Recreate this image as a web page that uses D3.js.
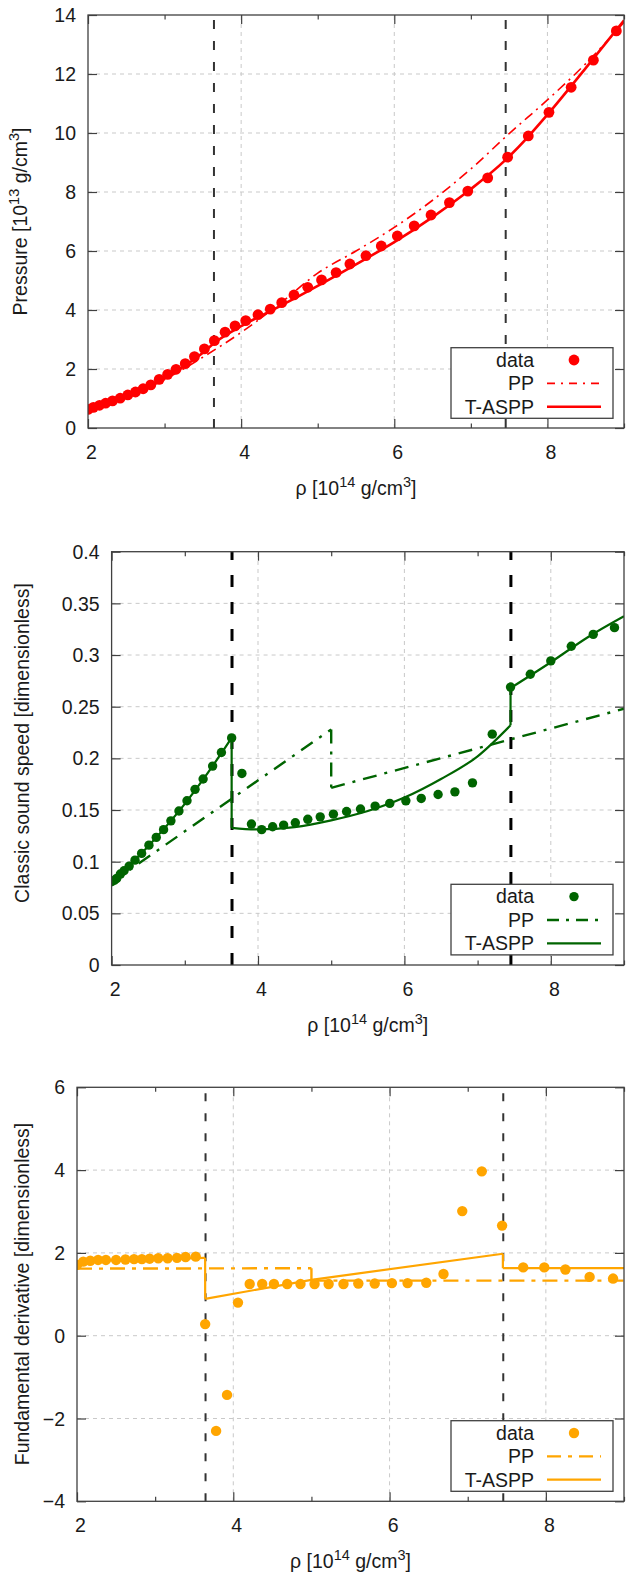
<!DOCTYPE html>
<html><head><meta charset="utf-8">
<script src="https://cdn.jsdelivr.net/npm/d3@7"></script>
<style>
body{margin:0;background:#fff}
svg{display:block}
text{font-family:"Liberation Sans",Arial,sans-serif;fill:#1a1a1a}
</style>
</head><body>
<svg id="chart" width="626" height="1572"></svg>
<script>
// ---------- shared ----------
const xTicks = [2, 4, 6, 8];
const xMinorTicks = [3, 5, 7, 9];
const transitions = [3.645, 7.455];
const legendLabels = ["data", "PP", "T-ASPP"];

// ---------- panel 1 : pressure ----------
const rho1 = [2.0, 2.07, 2.15, 2.23, 2.32, 2.42, 2.52, 2.62, 2.72, 2.82, 2.93, 3.04, 3.15, 3.27, 3.39, 3.52, 3.65, 3.79, 3.92, 4.06, 4.22, 4.38, 4.53, 4.69, 4.87, 5.05, 5.24, 5.42, 5.63, 5.83, 6.04, 6.26, 6.48, 6.72, 6.96, 7.22, 7.48, 7.75, 8.02, 8.31, 8.60, 8.90];
const pressure = [0.63, 0.70, 0.77, 0.84, 0.92, 1.01, 1.12, 1.22, 1.33, 1.46, 1.65, 1.82, 1.99, 2.18, 2.42, 2.68, 2.96, 3.25, 3.46, 3.64, 3.84, 4.03, 4.25, 4.51, 4.77, 5.02, 5.27, 5.56, 5.84, 6.17, 6.51, 6.85, 7.22, 7.64, 8.03, 8.48, 9.18, 9.90, 10.70, 11.55, 12.47, 13.46];
const ppRho1 = [2.0, 2.5, 3.0, 3.5, 4.0, 4.5, 5.0, 5.5, 6.0, 6.5, 7.0, 7.5, 8.0, 8.5, 9.0];
const ppPressure = [0.62, 1.04, 1.64, 2.40, 3.24, 4.2, 5.25, 6.0, 6.8, 7.72, 8.78, 9.98, 11.12, 12.35, 13.75];
const tasppRho1 = [2.0, 2.5, 3.0, 3.5, 3.65, 4.0, 4.5, 5.0, 5.5, 6.0, 6.5, 7.0, 7.45, 7.75, 8.0, 8.5, 9.0];
const tasppPressure = [0.62, 1.06, 1.68, 2.55, 2.88, 3.45, 4.12, 4.82, 5.55, 6.30, 7.15, 8.10, 9.08, 9.88, 10.62, 12.2, 13.82];
const yTicks1 = [0, 2, 4, 6, 8, 10, 12, 14];

// ---------- panel 2 : classic sound speed ----------
const rho2 = [2.0, 2.04, 2.07, 2.12, 2.17, 2.24, 2.32, 2.41, 2.51, 2.61, 2.71, 2.81, 2.92, 3.03, 3.14, 3.25, 3.38, 3.50, 3.64, 3.78, 3.91, 4.05, 4.20, 4.35, 4.51, 4.68, 4.85, 5.03, 5.21, 5.40, 5.60, 5.80, 6.02, 6.23, 6.46, 6.69, 6.93, 7.20, 7.45, 7.72, 8.0, 8.28, 8.58, 8.87];
const soundSpeed = [0.0806, 0.082, 0.0838, 0.088, 0.0912, 0.0957, 0.1015, 0.108, 0.116, 0.1235, 0.131, 0.1395, 0.149, 0.159, 0.170, 0.180, 0.1925, 0.2057, 0.2198, 0.1854, 0.1364, 0.131, 0.1338, 0.1354, 0.1376, 0.141, 0.1434, 0.146, 0.1486, 0.151, 0.1538, 0.1564, 0.1589, 0.1612, 0.165, 0.1676, 0.1763, 0.2234, 0.269, 0.2814, 0.2943, 0.3085, 0.320, 0.3265];
const ppRho2 = [2.0, 5.0, 5.0, 9.0];
const ppSpeed = [0.080, 0.228, 0.1715, 0.248];
const tasppRho2 = [2.0, 2.5, 3.0, 3.5, 3.64, 3.64, 4.0, 4.5, 5.0, 5.5, 6.0, 6.5, 7.0, 7.45, 7.45, 8.0, 8.5, 9.0];
const tasppSpeed = [0.080, 0.115, 0.156, 0.205, 0.220, 0.1328, 0.1312, 0.1335, 0.140, 0.149, 0.162, 0.180, 0.202, 0.232, 0.268, 0.293, 0.317, 0.3375];
const yTicks2 = [0, 0.05, 0.1, 0.15, 0.2, 0.25, 0.3, 0.35, 0.4];

// ---------- panel 3 : fundamental derivative ----------
const rho3 = [2.0, 2.08, 2.17, 2.27, 2.37, 2.50, 2.62, 2.73, 2.83, 2.93, 3.04, 3.16, 3.28, 3.39, 3.52, 3.64, 3.78, 3.92, 4.06, 4.21, 4.37, 4.52, 4.69, 4.86, 5.04, 5.22, 5.41, 5.60, 5.81, 6.03, 6.23, 6.47, 6.69, 6.93, 7.18, 7.44, 7.71, 7.98, 8.25, 8.56, 8.86];
const fundDeriv = [1.71, 1.79, 1.81, 1.83, 1.83, 1.83, 1.84, 1.85, 1.85, 1.86, 1.87, 1.87, 1.88, 1.90, 1.91, 0.28, -2.30, -1.43, 0.80, 1.25, 1.25, 1.25, 1.25, 1.25, 1.25, 1.25, 1.25, 1.26, 1.26, 1.27, 1.27, 1.28, 1.49, 3.01, 3.97, 2.66, 1.65, 1.65, 1.60, 1.42, 1.38];
const ppRho3 = [2.0, 5.0, 5.0, 9.0];
const ppDeriv = [1.62, 1.63, 1.33, 1.33];
const tasppRho3 = [2.0, 3.0, 3.64, 3.64, 5.0, 7.45, 7.45, 9.0];
const tasppDeriv = [1.80, 1.85, 1.88, 0.89, 1.35, 1.98, 1.63, 1.63];
const yTicks3 = [-4, -2, 0, 2, 4, 6];

// ---------- drawing ----------
const svg = d3.select("#chart");
const FONT = 19.5;

function zip(xs, ys) { return xs.map((x, i) => [x, ys[i]]); }
function segments(xs, ys) {
  const segs = [[[xs[0], ys[0]]]], jumps = [];
  for (let i = 1; i < xs.length; i++) {
    if (xs[i] === xs[i - 1]) {
      jumps.push([[xs[i - 1], ys[i - 1]], [xs[i], ys[i]]]);
      segs.push([[xs[i], ys[i]]]);
    } else segs[segs.length - 1].push([xs[i], ys[i]]);
  }
  return { segs, jumps };
}
function richText(sel, parts) {
  parts.forEach(p => {
    if (p.sup) sel.append("tspan").attr("font-size", 14.5).attr("dy", -8).text(p.t);
    else sel.append("tspan").attr("font-size", FONT).attr("dy", p.after ? 8 : 0).text(p.t);
  });
}
const xTitleParts = [{t: "ρ [10"}, {t: "14", sup: true}, {t: " g/cm", after: true}, {t: "3", sup: true}, {t: "]", after: true}];

function drawPanel(c, idx) {
  const g = svg.append("g");
  const x = d3.scaleLinear().domain([2, 9]).range([c.left, c.right]);
  const y = d3.scaleLinear().domain(c.yDomain).range([c.bottom, c.top]);
  const clipId = "clip" + idx;
  svg.append("defs").append("clipPath").attr("id", clipId)
    .append("rect").attr("x", c.left).attr("y", c.top).attr("width", c.right - c.left).attr("height", c.bottom - c.top);

  // grid
  const grid = g.append("g").attr("stroke", "#c9c9c9").attr("stroke-width", 1).attr("stroke-dasharray", "4,4");
  xTicks.filter(t => t > 2).forEach(t => grid.append("line").attr("x1", x(t)).attr("x2", x(t)).attr("y1", c.bottom).attr("y2", c.top));
  c.yTicks.filter(t => t > c.yDomain[0] && t < c.yDomain[1]).forEach(t => grid.append("line").attr("x1", c.left).attr("x2", c.right).attr("y1", y(t)).attr("y2", y(t)));

  // transition lines
  transitions.forEach(t => g.append("line").attr("x1", x(t)).attr("x2", x(t)).attr("y1", c.bottom).attr("y2", c.top)
    .attr("stroke", c.vColor).attr("stroke-width", c.vWidth).attr("stroke-dasharray", c.vDash));

  const plot = g.append("g").attr("clip-path", `url(#${clipId})`);
  const lineGen = d3.line().x(d => x(d[0])).y(d => y(d[1]));

  function drawSeries(xs, ys, curve, style) {
    const { segs, jumps } = segments(xs, ys);
    segs.forEach(s => plot.append("path").attr("d", lineGen.curve(curve)(s)).attr("fill", "none")
      .attr("stroke", c.color).attr("stroke-width", style.w).attr("stroke-dasharray", style.dash || null).attr("stroke-linejoin", "round"));
    jumps.forEach(j => plot.append("path").attr("d", d3.line().x(d => x(d[0])).y(d => y(d[1]))(j)).attr("fill", "none")
      .attr("stroke", c.color).attr("stroke-width", style.w).attr("stroke-dasharray", style.dash || null));
  }
  drawSeries(c.ppX, c.ppY, c.ppCurve, { w: c.ppWidth, dash: c.ppDash });
  drawSeries(c.tX, c.tY, c.tCurve, { w: c.tWidth });

  plot.selectAll("circle.pt").data(zip(c.dX, c.dY)).join("circle").attr("class", "pt")
    .attr("cx", d => x(d[0])).attr("cy", d => y(d[1])).attr("r", c.r).attr("fill", c.color);

  // axes (ticks inward, mirrored)
  const axB = d3.axisBottom(x).tickValues(xTicks).tickSizeInner(-9).tickSizeOuter(0).tickFormat(d3.format("d"));
  const axT = d3.axisTop(x).tickValues(xTicks).tickSizeInner(-9).tickSizeOuter(0).tickFormat("");
  const axL = d3.axisLeft(y).tickValues(c.yTicks).tickSizeInner(-9).tickSizeOuter(0).tickFormat(c.fmt);
  const axR = d3.axisRight(y).tickValues(c.yTicks).tickSizeInner(-9).tickSizeOuter(0).tickFormat("");
  const mB = d3.axisBottom(x).tickValues(xMinorTicks).tickSizeInner(-4.5).tickSizeOuter(0).tickFormat("");
  const mT = d3.axisTop(x).tickValues(xMinorTicks).tickSizeInner(-4.5).tickSizeOuter(0).tickFormat("");
  const styleAx = s => { s.select(".domain").remove(); s.selectAll("line").attr("stroke", "#404040").attr("stroke-width", 1.2); };
  const gB = g.append("g").attr("transform", `translate(0,${c.bottom})`).call(axB).call(styleAx);
  gB.selectAll("text").attr("y", 31).attr("dy", 0).attr("dx", 3).attr("font-size", FONT).attr("fill", "#1a1a1a").attr("font-family", '"Liberation Sans",Arial,sans-serif');
  g.append("g").attr("transform", `translate(0,${c.top})`).call(axT).call(styleAx);
  g.append("g").attr("transform", `translate(0,${c.bottom})`).call(mB).call(styleAx);
  g.append("g").attr("transform", `translate(0,${c.top})`).call(mT).call(styleAx);
  const gL = g.append("g").attr("transform", `translate(${c.left},0)`).call(axL).call(styleAx);
  gL.selectAll("text").attr("x", -12).attr("dy", "0.34em").attr("font-size", FONT).attr("fill", "#1a1a1a").attr("font-family", '"Liberation Sans",Arial,sans-serif');
  g.append("g").attr("transform", `translate(${c.right},0)`).call(axR).call(styleAx);

  // border
  g.append("rect").attr("x", c.left).attr("y", c.top).attr("width", c.right - c.left).attr("height", c.bottom - c.top)
    .attr("fill", "none").attr("stroke", "#404040").attr("stroke-width", 1.3);

  // axis titles
  const xt = g.append("text").attr("x", (c.left + c.right) / 2).attr("y", c.bottom + 67).attr("text-anchor", "middle").attr("font-size", FONT);
  richText(xt, xTitleParts);
  const yt = g.append("text").attr("transform", `translate(${c.yTitleX},${c.yTitleY}) rotate(-90)`).attr("text-anchor", "middle").attr("font-size", FONT);
  richText(yt, c.yTitle);

  // legend
  const L = { x0: 451, x1: 613, y0: c.legTop, h: 70.6 };
  const lg = g.append("g");
  lg.append("rect").attr("x", L.x0).attr("y", L.y0).attr("width", L.x1 - L.x0).attr("height", L.h)
    .attr("fill", "#fff").attr("stroke", "#404040").attr("stroke-width", 1.3);
  const rows = [12.3, 35.7, 59];
  legendLabels.forEach((lab, i) => {
    const ry = L.y0 + rows[i];
    lg.append("text").attr("x", 534).attr("y", ry).attr("dy", "0.35em").attr("text-anchor", "end").attr("font-size", FONT).text(lab);
    if (i === 0) lg.append("circle").attr("cx", 574).attr("cy", ry).attr("r", c.r).attr("fill", c.color);
    else lg.append("line").attr("x1", 547).attr("x2", 601).attr("y1", ry).attr("y2", ry).attr("stroke", c.color)
      .attr("stroke-width", i === 1 ? c.ppWidth : c.tWidth).attr("stroke-dasharray", i === 1 ? c.legDash : null);
  });
}

const fmtInt = d3.format("d");
const fmtDec = d => String(+d.toFixed(2));

drawPanel({
  left: 88, right: 624, top: 15, bottom: 428, yDomain: [0, 14], yTicks: yTicks1, fmt: fmtInt,
  color: "#ff0000", r: 5.4,
  dX: rho1, dY: pressure, ppX: ppRho1, ppY: ppPressure, tX: tasppRho1, tY: tasppPressure,
  ppCurve: d3.curveMonotoneX, tCurve: d3.curveMonotoneX, ppWidth: 1.6, ppDash: "10,5,2,5", legDash: "8,6,2,6", tWidth: 2.6,
  vColor: "#333", vWidth: 2, vDash: "9,12",
  yTitleX: 27, yTitleY: 221.5,
  yTitle: [{t: "Pressure [10"}, {t: "13", sup: true}, {t: " g/cm", after: true}, {t: "3", sup: true}, {t: "]", after: true}],
  legTop: 347.7
}, 1);

drawPanel({
  left: 111.6, right: 624, top: 551.7, bottom: 965, yDomain: [0, 0.4], yTicks: yTicks2, fmt: fmtDec,
  color: "#006400", r: 4.7,
  dX: rho2, dY: soundSpeed, ppX: ppRho2, ppY: ppSpeed, tX: tasppRho2, tY: tasppSpeed,
  ppCurve: d3.curveLinear, tCurve: d3.curveMonotoneX, ppWidth: 2.4, ppDash: "14,8,3,8", legDash: "12,7,3,7", tWidth: 2.2,
  vColor: "#000", vWidth: 3, vDash: "12,15",
  yTitleX: 29, yTitleY: 743,
  yTitle: [{t: "Classic sound speed [dimensionless]"}],
  legTop: 884.3
}, 2);

drawPanel({
  left: 77, right: 624, top: 1087.3, bottom: 1501.3, yDomain: [-4, 6], yTicks: yTicks3, fmt: fmtInt,
  color: "#ffa500", r: 5.2,
  dX: rho3, dY: fundDeriv, ppX: ppRho3, ppY: ppDeriv, tX: tasppRho3, tY: tasppDeriv,
  ppCurve: d3.curveLinear, tCurve: d3.curveLinear, ppWidth: 2.4, ppDash: "15,7,4,7", legDash: "14,7,4,7", tWidth: 2.2,
  vColor: "#333", vWidth: 2, vDash: "8,12",
  yTitleX: 29, yTitleY: 1294,
  yTitle: [{t: "Fundamental derivative [dimensionless]"}],
  legTop: 1420.7
}, 3);
</script>
</body></html>
